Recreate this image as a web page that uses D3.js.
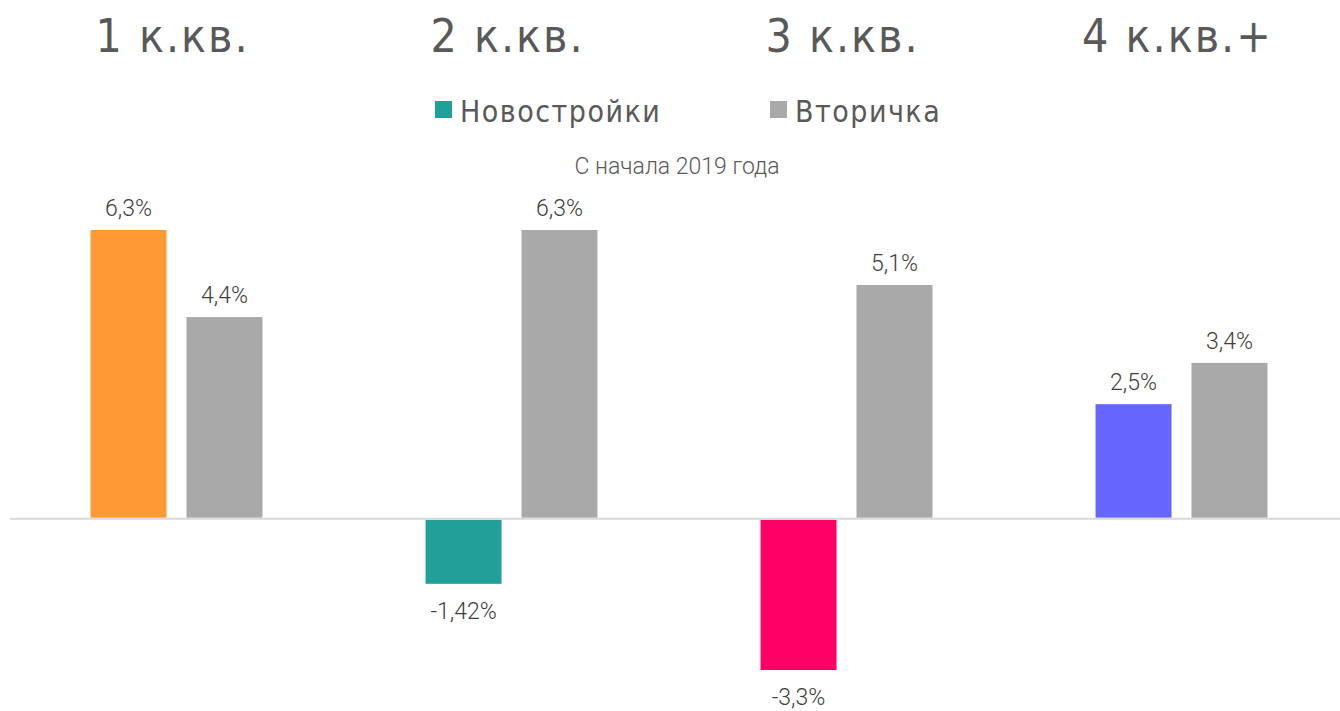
<!DOCTYPE html>
<meta charset="utf-8">
<script src="https://d3js.org/d3.v7.min.js"></script>
<style>
  body { margin: 0; background: #fff; }
  text { fill: #595959; }
</style>
<div id="chart"></div>
<script>

// data
var categories = ["1 к.кв.", "2 к.кв.", "3 к.кв.", "4 к.кв.+"];
var series = ["Новостройки", "Вторичка"];
var newValues = [6.3, -1.42, -3.3, 2.5];
var resaleValues = [4.4, 6.3, 5.1, 3.4];
var newLabels = ["6,3%", "-1,42%", "-3,3%", "2,5%"];
var resaleLabels = ["4,4%", "6,3%", "5,1%", "3,4%"];
var newColors = ["#ff9933", "#21a09a", "#ff0066", "#6666ff"];
var resaleColor = "#a9a9a9";
var subtitle = "С начала 2019 года";

var width = 1340, height = 711;
var light = "Roboto, sans-serif";

var svg = d3.select("#chart").append("svg")
    .attr("width", width)
    .attr("height", height);

var x = d3.scaleBand()
    .domain(categories)
    .range([9, 1349]);

var inner = d3.scaleBand()
    .domain(series)
    .range([0, x.bandwidth()])
    .paddingInner(0.208)
    .paddingOuter(0.85);

var y = d3.scaleLinear()
    .domain([-3.3, 6.3])
    .range([670, 230]);

// category titles
svg.selectAll(".cat")
  .data(categories)
  .enter().append("text")
    .attr("class", "cat")
    .attr("x", function(d) { return x(d) + x.bandwidth() / 2 - 4; })
    .attr("y", 52)
    .attr("text-anchor", "middle")
    .style("font-family", "'DejaVu Sans Condensed', sans-serif")
    .style("font-size", "46px")
    .style("letter-spacing", "2px")
    .text(function(d) { return d; });

// legend
var legend = [
  {name: series[0], color: newColors[1], x: 435},
  {name: series[1], color: resaleColor, x: 770}
];
var lg = svg.selectAll(".lg")
  .data(legend)
  .enter().append("g")
    .attr("transform", function(d) { return "translate(" + d.x + ",0)"; });
lg.append("rect")
    .attr("y", 101)
    .attr("width", 17)
    .attr("height", 17)
    .attr("fill", function(d) { return d.color; });
lg.append("text")
    .attr("x", 25)
    .attr("y", 122)
    .style("font-family", "'DejaVu Sans Condensed', sans-serif")
    .style("font-size", "30px")
    .style("letter-spacing", "1.5px")
    .text(function(d) { return d.name; });

svg.append("text")
    .attr("x", 677)
    .attr("y", 174)
    .attr("text-anchor", "middle")
    .style("font-family", light)
    .style("font-weight", 300)
    .style("font-size", "23px")
    .text(subtitle);

// bars
var rows = categories.map(function(c, i) {
  return [
    {cat: c, s: series[0], v: newValues[i], label: newLabels[i], color: newColors[i]},
    {cat: c, s: series[1], v: resaleValues[i], label: resaleLabels[i], color: resaleColor}
  ];
});
var bars = d3.merge(rows);

svg.selectAll(".bar")
  .data(bars)
  .enter().append("rect")
    .attr("x", function(d) { return x(d.cat) + inner(d.s); })
    .attr("width", inner.bandwidth())
    .attr("y", function(d) { return d.v > 0 ? y(d.v) : y(0) + 1; })
    .attr("height", function(d) { return Math.abs(y(d.v) - y(0)) - 1; })
    .attr("fill", function(d) { return d.color; });

// zero line
svg.append("line")
    .attr("x1", 10)
    .attr("x2", 1340)
    .attr("y1", y(0))
    .attr("y2", y(0))
    .attr("stroke", "#d9d9d9")
    .attr("stroke-width", 2);

svg.selectAll(".val")
  .data(bars)
  .enter().append("text")
    .attr("x", function(d) { return x(d.cat) + inner(d.s) + inner.bandwidth() / 2; })
    .attr("y", function(d) { return d.v > 0 ? y(d.v) - 14 : y(d.v) + 35; })
    .attr("text-anchor", "middle")
    .style("font-family", light)
    .style("font-weight", 300)
    .style("font-size", "23px")
    .style("fill", "#404040")
    .text(function(d) { return d.label; });

</script>
